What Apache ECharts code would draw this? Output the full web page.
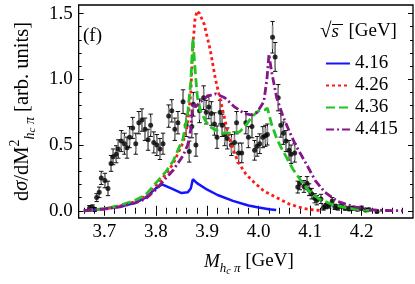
<!DOCTYPE html>
<html><head><meta charset="utf-8">
<script src="https://cdn.jsdelivr.net/npm/echarts@6/dist/echarts.min.js"></script>
<style>html,body{margin:0;padding:0;background:#fff}#c{width:415px;height:284px}</style>
</head><body><div id="c"></div>
<script>
// ---- data points (M_{hc pi} [GeV], dσ/dM², error) ----
const pointX = [3.671,3.677,3.681,3.685,3.690,3.694,3.701,3.707,3.713,3.717,3.723,3.727,3.733,3.739,3.744,3.749,3.755,3.761,3.767,3.773,3.779,3.785,3.790,3.796,3.802,3.808,3.814,3.825,3.831,3.837,3.843,3.853,3.859,3.865,3.870,3.873,3.878,3.885,3.893,3.898,3.903,3.908,3.914,3.919,3.925,3.929,3.934,3.939,3.947,3.953,3.957,3.961,3.967,3.975,3.980,3.987,3.992,3.997,4.002,4.008,4.013,4.017,4.027,4.032,4.038,4.043,4.048,4.053,4.059,4.063,4.070,4.076,4.080,4.088,4.094,4.098,4.103,4.109,4.113,4.121,4.126,4.131,4.137,4.143,4.148,4.154,4.161,4.168,4.176,4.183,4.192,4.200,4.208,4.214,4.230];
const pointY = [0.02,0.025,0.01,0.10,0.14,0.25,0.23,0.17,0.36,0.41,0.43,0.47,0.53,0.51,0.48,0.56,0.63,0.51,0.67,0.69,0.62,0.54,0.65,0.52,0.50,0.47,0.51,0.72,0.76,0.62,0.67,0.83,0.65,0.45,0.64,0.81,0.50,0.76,0.86,0.75,0.79,0.74,0.66,0.56,0.75,0.65,0.58,0.55,0.50,0.52,0.67,0.44,0.44,0.67,0.56,0.64,0.46,0.49,0.51,0.56,0.57,0.58,1.32,1.17,0.86,0.65,0.59,0.53,0.46,0.43,0.44,0.18,0.21,0.185,0.21,0.16,0.13,0.095,0.08,0.09,0.025,0.035,0.04,0.075,0.03,0.025,0.04,0.02,0.015,0.02,0.013,0.02,0.005,0.008,-0.005];
const pointErr = [0.02,0.02,0.015,0.03,0.04,0.05,0.055,0.055,0.06,0.06,0.065,0.07,0.08,0.08,0.08,0.08,0.08,0.08,0.085,0.085,0.085,0.08,0.085,0.08,0.08,0.08,0.08,0.085,0.085,0.085,0.085,0.09,0.085,0.08,0.085,0.09,0.085,0.09,0.09,0.09,0.09,0.09,0.085,0.085,0.09,0.085,0.085,0.08,0.08,0.08,0.085,0.075,0.075,0.085,0.08,0.085,0.075,0.075,0.075,0.08,0.08,0.08,0.12,0.11,0.10,0.09,0.085,0.08,0.075,0.07,0.07,0.045,0.05,0.045,0.05,0.045,0.04,0.035,0.035,0.035,0.02,0.02,0.02,0.025,0.02,0.02,0.02,0.015,0.015,0.015,0.015,0.015,0.012,0.012,0.01];

// ---- model curves ----
const blueX = [3.66,3.70,3.73,3.76,3.78,3.80,3.812,3.83,3.85,3.862,3.868,3.872,3.880,3.90,3.92,3.95,3.98,4.00,4.02,4.034];
const blueY = [0.0,0.015,0.03,0.06,0.10,0.17,0.20,0.17,0.135,0.14,0.17,0.24,0.21,0.16,0.12,0.075,0.04,0.025,0.012,0.005];
const redX = [3.66,3.70,3.73,3.76,3.78,3.80,3.82,3.834,3.853,3.862,3.868,3.872,3.876,3.880,3.885,3.894,3.906,3.916,3.928,3.938,3.947,3.960,3.975,3.990,4.010,4.035,4.060,4.085,4.100,4.123];
const redY = [0.0,0.015,0.035,0.07,0.11,0.19,0.28,0.36,0.52,0.66,0.90,1.25,1.45,1.52,1.50,1.42,1.22,1.00,0.80,0.63,0.50,0.37,0.28,0.22,0.15,0.10,0.05,0.02,0.01,0.0];
const greenX = [3.66,3.70,3.73,3.76,3.78,3.80,3.82,3.834,3.853,3.862,3.868,3.872,3.877,3.881,3.887,3.897,3.909,3.928,3.947,3.963,3.975,3.988,4.000,4.013,4.017,4.025,4.035,4.045,4.055,4.066,4.082,4.098,4.117,4.142,4.173,4.204,4.225];
const greenY = [0.0,0.017,0.04,0.08,0.12,0.21,0.30,0.38,0.55,0.74,0.98,1.31,1.04,0.86,0.76,0.68,0.63,0.59,0.59,0.60,0.65,0.72,0.76,0.77,0.78,0.66,0.55,0.47,0.40,0.32,0.23,0.15,0.09,0.05,0.02,0.005,0.0];
const purpleX = [3.66,3.70,3.73,3.76,3.78,3.80,3.82,3.834,3.853,3.862,3.868,3.872,3.877,3.887,3.900,3.916,3.934,3.953,3.972,3.985,3.997,4.010,4.016,4.020,4.022,4.025,4.035,4.048,4.060,4.073,4.092,4.110,4.129,4.154,4.186,4.217,4.245,4.280];
const purpleY = [0.0,0.013,0.03,0.06,0.09,0.16,0.25,0.31,0.42,0.50,0.62,0.82,0.79,0.83,0.87,0.89,0.86,0.79,0.74,0.73,0.75,0.83,1.0,1.19,1.20,1.06,0.86,0.71,0.60,0.49,0.36,0.23,0.14,0.07,0.03,0.008,0.002,0.0];

// ---- labels / ticks ----
const seriesNames = ['4.16','4.26','4.36','4.415'];
const xTicks = [3.7,3.8,3.9,4.0,4.1,4.2];
const xMinorTicks = [3.66,3.68,3.72,3.74,3.76,3.78,3.82,3.84,3.86,3.88,3.92,3.94,3.96,3.98,4.02,4.04,4.06,4.08,4.12,4.14,4.16,4.18,4.22,4.24,4.26,4.28];
const yTicks = [0,0.5,1.0,1.5];
const yMinorTicks = [0.1,0.2,0.3,0.4,0.6,0.7,0.8,0.9,1.1,1.2,1.3,1.4];

const FF = 'Liberation Serif';
const zip = (xs, ys) => xs.map((x, i) => [x, ys[i]]);

function xAx(pos, ticks, len, labels) {
  return {type:'value', min:3.65, max:4.30, position:pos,
    axisLine:{show:false}, splitLine:{show:false},
    axisTick:{show:true, inside:true, length:len, customValues:ticks, lineStyle:{color:'#000', width:1}},
    axisLabel:labels ? {show:true, customValues:ticks, formatter:v=>v.toFixed(1), fontFamily:FF, fontSize:19, color:'#000', margin:5} : {show:false}};
}
function yAx(pos, ticks, len, labels) {
  return {type:'value', min:-0.055, max:1.565, position:pos,
    axisLine:{show:false}, splitLine:{show:false},
    axisTick:{show:true, inside:true, length:len, customValues:ticks, lineStyle:{color:'#000', width:1}},
    axisLabel:labels ? {show:true, customValues:ticks, formatter:v=>v.toFixed(1), fontFamily:FF, fontSize:19, color:'#000', margin:6} : {show:false}};
}

const xMain = xAx('bottom', xTicks, 5, true);
Object.assign(xMain, {
  name:'{i|M}{s|h}{ss|c}{s| π}{m| [GeV]}', nameLocation:'middle', nameGap:30,
  nameTextStyle:{fontFamily:FF, color:'#000', padding:[0,0,0,6], rich:{
    i:{fontFamily:FF, fontSize:19, fontStyle:'italic', verticalAlign:'top', padding:[4,0,0,0], lineHeight:20},
    m:{fontFamily:FF, fontSize:19, verticalAlign:'top', padding:[4,0,0,0], lineHeight:20},
    s:{fontFamily:FF, fontSize:13, fontStyle:'italic', verticalAlign:'top', padding:[14,0,0,0], lineHeight:13},
    ss:{fontFamily:FF, fontSize:10, fontStyle:'italic', verticalAlign:'top', padding:[18,0,0,0], lineHeight:10}
  }}
});
const yMain = yAx('left', yTicks, 5, true);
Object.assign(yMain, {
  name:'{m|d}{i|σ}{m|/dM}{sup|2}{s|h}{ss|c}{s| π}{m| [arb. units]}', nameLocation:'middle', nameGap:43, nameRotate:90,
  nameTextStyle:{fontFamily:FF, color:'#000', rich:{
    i:{fontFamily:FF, fontSize:20.5, fontStyle:'italic', verticalAlign:'top', padding:[4,0,0,0], lineHeight:21},
    m:{fontFamily:FF, fontSize:20.5, verticalAlign:'top', padding:[4,0,0,0], lineHeight:21},
    sup:{fontFamily:FF, fontSize:14, verticalAlign:'top', padding:[0,0,0,0], lineHeight:14},
    s:{fontFamily:FF, fontSize:14, fontStyle:'italic', verticalAlign:'top', padding:[15,0,0,0], lineHeight:14},
    ss:{fontFamily:FF, fontSize:11, fontStyle:'italic', verticalAlign:'top', padding:[19,0,0,0], lineHeight:11}
  }}
});

function errRender(params, api) {
  const x = api.value(0), y = api.value(1), e = api.value(2);
  const lo = api.coord([x, y - e]), hi = api.coord([x, y + e]);
  const gLo = api.coord([x, y - 0.75 * e]), gHi = api.coord([x, y + 0.75 * e]);
  const w = 2.2;
  const blk = {stroke:'#111', lineWidth:1};
  return {type:'group', children:[
    {type:'line', shape:{x1:lo[0], y1:lo[1], x2:hi[0], y2:hi[1]}, style:blk},
    {type:'line', shape:{x1:lo[0]-w, y1:lo[1], x2:lo[0]+w, y2:lo[1]}, style:blk},
    {type:'line', shape:{x1:hi[0]-w, y1:hi[1], x2:hi[0]+w, y2:hi[1]}, style:blk},
    {type:'line', shape:{x1:gLo[0], y1:gLo[1], x2:gHi[0], y2:gHi[1]}, style:{stroke:'#8a8a8a', lineWidth:1.6}}
  ]};
}

function curve(name, xs, ys, color, type, width) {
  return {name, type:'line', data:zip(xs, ys), showSymbol:false, symbol:'none', smooth:false,
    lineStyle:{color, width, type, cap:'butt'}, itemStyle:{color}, z:5, clip:true, animation:false};
}

const chart = echarts.init(document.getElementById('c'), null, {renderer:'canvas'});
chart.setOption({
  animation:false,
  backgroundColor:'#fff',
  grid:{left:69, right:2, top:5, bottom:66, show:true, borderColor:'#000', borderWidth:1.3, backgroundColor:'transparent'},
  xAxis:[xMain, xAx('bottom', xMinorTicks, 3, false), xAx('top', xTicks, 5, false), xAx('top', xMinorTicks, 3, false)],
  yAxis:[yMain, yAx('left', yMinorTicks, 3, false), yAx('right', yTicks, 5, false), yAx('right', yMinorTicks, 3, false)],
  legend:{data:seriesNames, orient:'vertical', left:320, top:49, itemWidth:24, itemHeight:10, itemGap:3,
    itemStyle:{opacity:0},
    textStyle:{fontFamily:FF, fontSize:19, color:'#000'}},
  graphic:[
    {type:'text', left:83, top:27, style:{text:'(f)', fontFamily:FF, fontSize:19, fill:'#000'}},
    {type:'text', left:320, top:21, style:{text:'{r|√}{s|s}{m|  [GeV]}', fontFamily:FF, fill:'#000', rich:{
      r:{fontFamily:FF, fontSize:21, fill:'#000'}, s:{fontFamily:FF, fontSize:19, fontStyle:'italic', fill:'#000'}, m:{fontFamily:FF, fontSize:19, fill:'#000'}}}},
    {type:'line', shape:{x1:332, y1:24.5, x2:343, y2:24.5}, style:{stroke:'#000', lineWidth:1}}
  ],
  series:[
    {type:'custom', name:'err', data:pointX.map((x, i) => [x, pointY[i], pointErr[i]]), renderItem:errRender, z:2, clip:true, silent:true},
    {type:'scatter', name:'data', data:zip(pointX, pointY), symbol:'circle', symbolSize:5, itemStyle:{color:'#000'}, z:3},
    curve(seriesNames[0], blueX, blueY, '#1414ff', 'solid', 2.5),
    curve(seriesNames[1], redX, redY, '#ff1a1a', [3,3], 2.8),
    curve(seriesNames[2], greenX, greenY, '#22c422', [9,4], 2.8),
    curve(seriesNames[3], purpleX, purpleY, '#86148a', [8,3,2,3], 2.8)
  ]
});
</script></body></html>
